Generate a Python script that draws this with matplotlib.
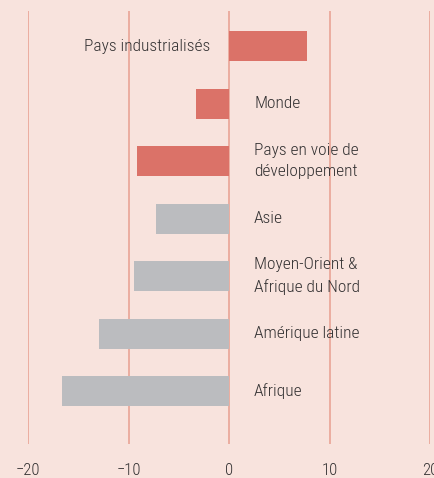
import matplotlib.pyplot as plt
import numpy as np

plt.rcParams['font.family'] = ['Roboto Condensed', 'DejaVu Sans']
plt.rcParams['font.weight'] = 'light'

# data, top to bottom
regions = ['Pays industrialisés', 'Monde', 'Pays en voie de\ndéveloppement', 'Asie',
           'Moyen-Orient &\nAfrique du Nord', 'Amérique latine', 'Afrique']
values = [7.8, -3.3, -9.15, -7.3, -9.45, -12.95, -16.6]
groups = ['agg', 'agg', 'agg', 'reg', 'reg', 'reg', 'reg']
xticks = [-20, -10, 0, 10, 20]

bg = '#f8e3dd'
colors = {'agg': '#db7268', 'reg': '#bbbcbf'}
txt = '#333132'

fig = plt.figure(figsize=(4.34, 4.78), dpi=100, facecolor=bg)
ax = fig.add_axes([28/434, 34/478, 402/434, 433/478], facecolor=bg)

y = np.arange(len(regions))
ax.barh(y, values, height=0.52, color=[colors[g] for g in groups], zorder=2)

# vertical grid lines
for xv in xticks:
    ax.axvline(xv, color='#e9a496', lw=1.2, zorder=1)

# labels next to bars
for yi, v, lab in zip(y, values, regions):
    if v >= 0:
        ax.text(-1.9, yi, lab, ha='right', va='center', fontsize=12.5, color=txt, zorder=3)
    else:
        ax.text(2.5, yi, lab, ha='left', va='center', fontsize=12.5, color=txt,
                linespacing=1.55, zorder=3)

ax.set_xlim(-20, 20)
ax.set_ylim(6.92, -0.61)
ax.set_xticks(xticks)
ax.set_xticklabels(['\u221220', '\u221210', '0', '10', '20'])
ax.tick_params(axis='x', length=0, pad=14, labelsize=12, colors=txt)
ax.set_yticks([])
for s in ax.spines.values():
    s.set_visible(False)

fig.savefig('out.png', dpi=100, facecolor=bg)
